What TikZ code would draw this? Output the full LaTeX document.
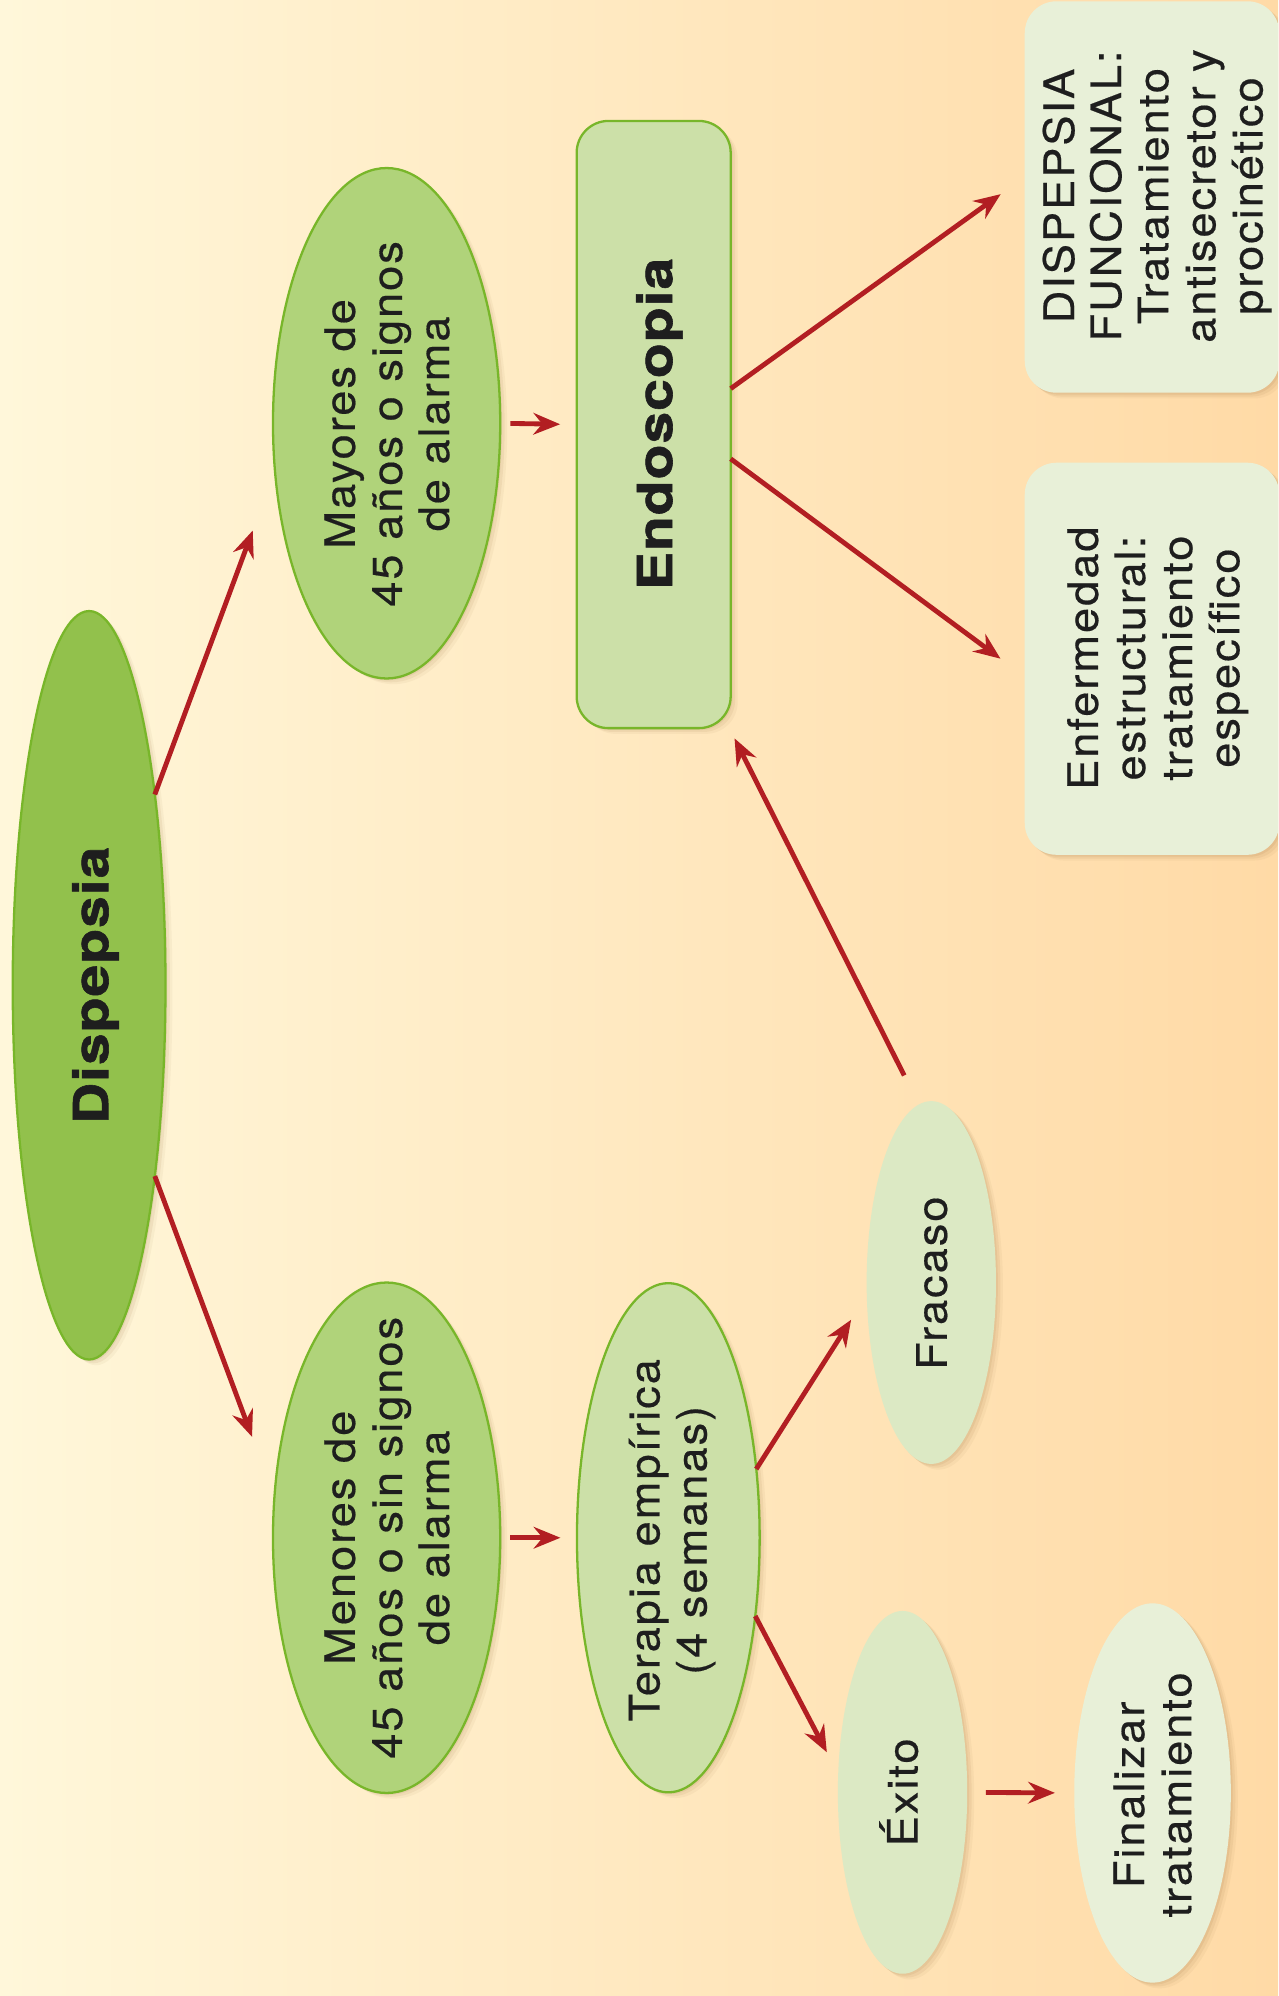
\documentclass[tikz,border=0pt]{standalone}
\usepackage{fontspec}
\setmainfont{TeX Gyre Heros}
\newfontfamily\regf[LetterSpace=4.5,FakeStretch=1.08,FakeBold=0.4]{TeX Gyre Heros}
\newfontfamily\heavyf[LetterSpace=2,FakeStretch=1.18,FakeBold=1.2]{TeX Gyre Heros}
\usetikzlibrary{shapes.geometric,arrows.meta,shadows}
\definecolor{bgL}{RGB}{255,247,218}
\definecolor{bgR}{RGB}{255,218,166}
\definecolor{gDark}{RGB}{146,193,76}
\definecolor{gMid}{RGB}{176,211,122}
\definecolor{gLight}{RGB}{204,224,168}
\definecolor{gPale}{RGB}{220,233,196}
\definecolor{gPaler}{RGB}{232,240,216}
\definecolor{gEdge}{RGB}{120,182,42}
\definecolor{arrRed}{RGB}{178,30,34}
\definecolor{txtc}{RGB}{30,30,30}
\definecolor{shad}{RGB}{150,110,60}
\tikzset{
  softshadow/.style={
    drop shadow={shadow xshift=1.5pt,shadow yshift=-1.5pt,opacity=0.10,fill=shad},
    drop shadow={shadow xshift=3.5pt,shadow yshift=-3pt,opacity=0.09,fill=shad},
    drop shadow={shadow xshift=5.5pt,shadow yshift=-4.5pt,opacity=0.06,fill=shad}},
  oval/.style={ellipse, inner sep=0pt, outer sep=0pt, softshadow},
  rbox/.style={rectangle, rounded corners=25pt, inner sep=0pt, outer sep=0pt, softshadow},
  edged/.style={draw=gEdge, line width=1.8pt},
  smalltxt/.style={rotate=90, align=center, text=txtc, inner sep=0pt,
    font=\regf\fontsize{33}{37}\selectfont},
  bigtxt/.style={rotate=90, align=center, text=txtc, inner sep=0pt,
    font=\heavyf\bfseries\fontsize{38}{44}\selectfont},
  arr/.style={draw=arrRed, line width=3.8pt,
    -{Stealth[length=21pt,width=17pt,inset=7pt]}}
}
\begin{document}
\begin{tikzpicture}[x=1pt,y=-1pt]
\useasboundingbox (0,0) rectangle (1004,1568);
\clip (0,0) rectangle (1004,1568);
\shade[left color=bgL, right color=bgR] (0,0) rectangle (1004,1568);

% shapes
\node[oval, edged, fill=gDark, minimum width=120pt, minimum height=588pt] (disp) at (70,774) {};
\node[oval, edged, fill=gMid, minimum width=178.5pt, minimum height=401pt] (may) at (303.7,332.5) {};
\node[oval, edged, fill=gMid, minimum width=178.5pt, minimum height=401pt] (men) at (303.7,1208) {};
\node[rbox, edged, fill=gLight, minimum width=121pt, minimum height=477pt] (endo) at (513.5,333.5) {};
\node[oval, edged, fill=gLight, minimum width=143.5pt, minimum height=400pt] (ter) at (525,1208) {};
\node[oval, fill=gPale, minimum width=101.6pt, minimum height=285pt] (fra) at (731.6,1007.5) {};
\node[oval, fill=gPale, minimum width=101.6pt, minimum height=285pt] (exi) at (709,1408) {};
\node[oval, fill=gPaler, minimum width=123pt, minimum height=298pt] (fin) at (905.4,1408.5) {};
\node[rbox, fill=gPaler, minimum width=200pt, minimum height=307.5pt] (func) at (905,154.75) {};
\node[rbox, fill=gPaler, minimum width=200pt, minimum height=308pt] (enf) at (905,517.5) {};

% texts
\node[bigtxt] (disp-t) at (75,774) {Dispepsia};
\node[bigtxt] (endo-t) at (518,333) {Endoscopia};
\node[smalltxt] (may-t) at (304,333) {Mayores de\\45 años o signos\\de alarma};
\node[smalltxt] (men-t) at (304,1208) {Menores de\\45 años o sin signos\\de alarma};
\node[smalltxt] (ter-t) at (528,1210) {Terapia empírica\\(4 semanas)};
\node[smalltxt] (fra-t) at (732,1008) {Fracaso};
\node[smalltxt] (exi-t) at (706,1408) {Éxito};
\node[smalltxt] (fin-t) at (905.5,1410) {Finalizar\\tratamiento};
\node[smalltxt] (func-t) at (909,154) {DISPEPSIA\\FUNCIONAL:\\Tratamiento\\antisecretor y\\procinético};
\node[smalltxt] (enf-t) at (909.5,517) {Enfermedad\\estructural:\\tratamiento\\específico};

% connectors
\draw[arr, shorten >=50.2pt] (disp.71) -- (may.203.3);
\draw[arr, shorten >=50.4pt] (disp.-71) -- (men.160.1);
\draw[arr, shorten <=8pt, shorten >=13pt] (may.east) -- (endo.west);
\draw[arr, shorten <=8pt, shorten >=13pt] (men.east) -- (ter.west);
\draw[arr, shorten >=23.3pt] (endo.25) -- (func.171.9);
\draw[arr, shorten >=23.7pt] (endo.-24.5) -- (enf.188.9);
\draw[arr, shorten >=23pt] (ter.38.6) -- (fra.191.9);
\draw[arr, shorten >=19.2pt] (ter.-42.8) -- (exi.164.8);
\draw[arr, shorten <=25.6pt, shorten >=9pt] (fra.94.1) -- (endo.-76);
\draw[arr, shorten <=14.7pt, shorten >=15.2pt] (exi.east) -- (fin.west);
\end{tikzpicture}
\end{document}
